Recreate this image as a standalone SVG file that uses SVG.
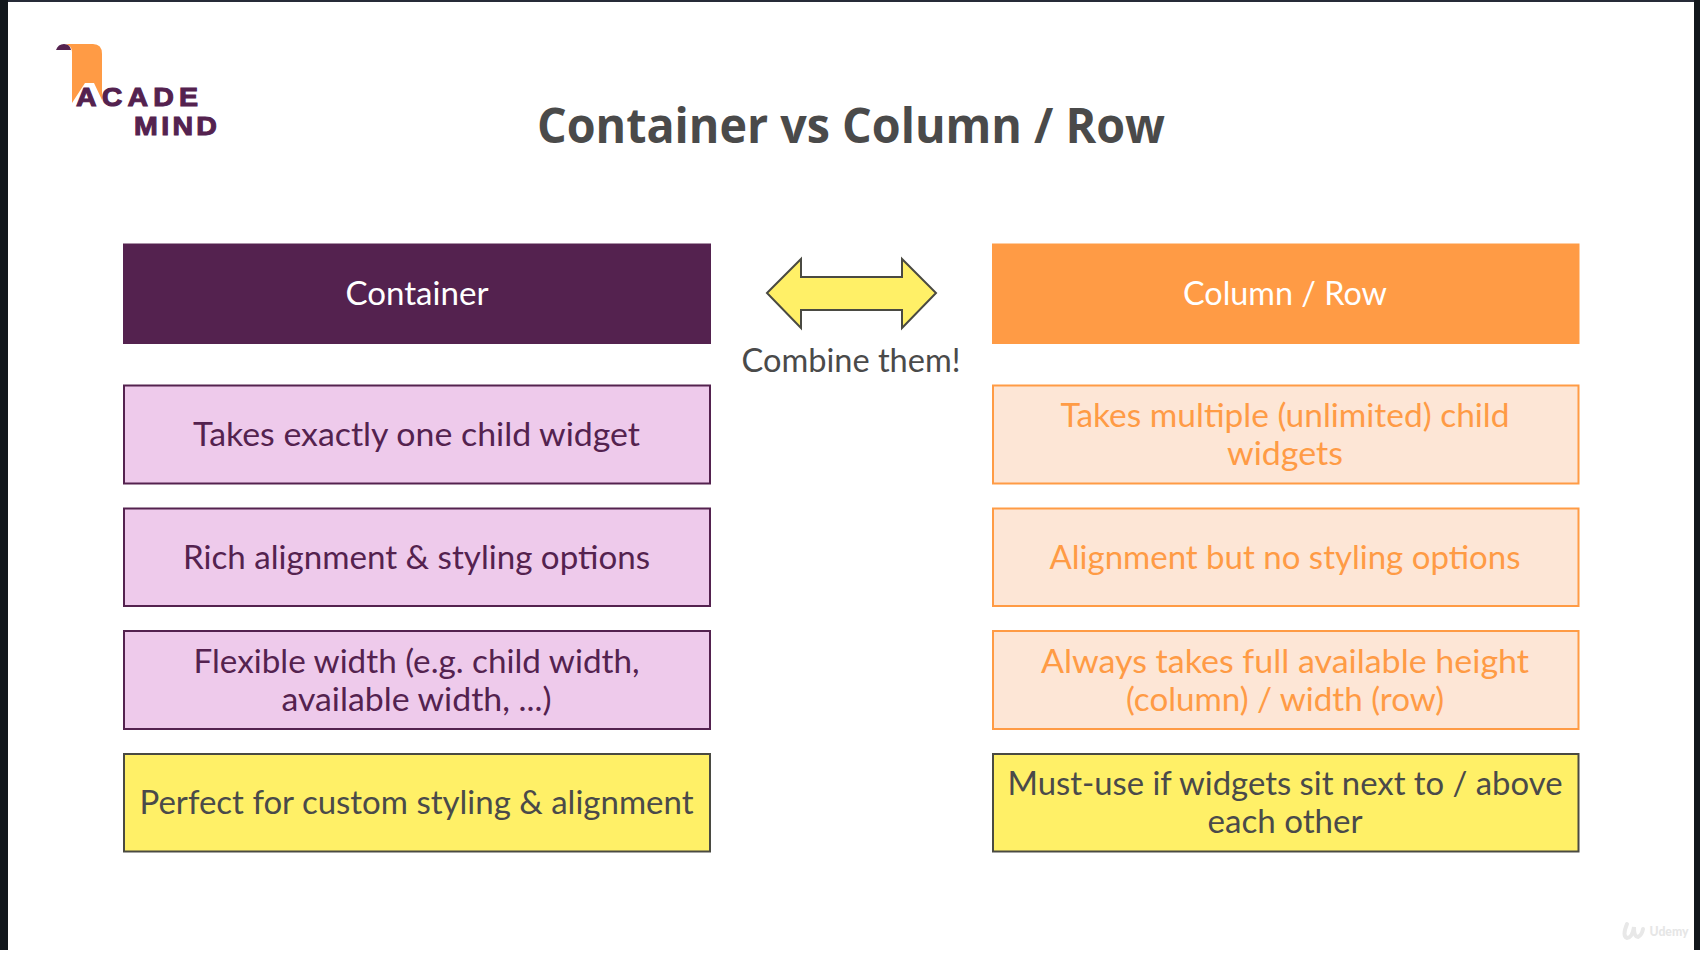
<svg xmlns="http://www.w3.org/2000/svg" width="1700" height="964" viewBox="0 0 1700 964">
<style>
text{font-family:"Lato","Liberation Sans",sans-serif;text-anchor:middle;font-size:33px}
.p{fill:#eecaeb;stroke:#54224f;stroke-width:2}
.o{fill:#fde6d6;stroke:#ff9b45;stroke-width:2}
.y{fill:#fff067;stroke:#4a4a42;stroke-width:2}
.tp{fill:#54224f}.to{fill:#ff9b45}.td{fill:#4a4a4a}.tw{fill:#fff}
.lg{font-family:"Liberation Sans",Arial,sans-serif;font-weight:700;font-size:25.5px;fill:#54224f;stroke:#54224f;stroke-width:1}
</style>
<rect width="1700" height="964" fill="#fff"/>
<rect width="1700" height="2" fill="#262b38"/>
<rect y="0" width="8" height="950" fill="#12171c"/>
<rect x="1694" y="0" width="6" height="950" fill="#12171c"/>
<g id="logo">
<path d="M71 44H93Q102 44 102 54V100L94 83H85L72 103V52Q72 46 66 44Z" fill="#ff9b45"/>
<path d="M56 50Q58 44 64 44Q70 44 71 50Z" fill="#54224f"/>
<text transform="translate(137 106) scale(1.12 1)" class="lg" textLength="109" lengthAdjust="spacing">ACADE</text>
<text transform="translate(175.500 135) scale(1.12 1)" class="lg" textLength="74" lengthAdjust="spacing">MIND</text>
</g>
<text id="title" x="851" y="143" class="td" style="font-family:'Open Sans',sans-serif;font-weight:700;font-size:48px" textLength="628" lengthAdjust="spacingAndGlyphs">Container vs Column / Row</text>
<g id="connectors">
<path id="arrow" d="M767 293L801 259V277H902V259L936 293L902 328V310H801V328Z" fill="#fff067" stroke="#4a4a42" stroke-width="2"/>
</g>
<text id="combine" x="851" y="372" class="td" textLength="219" lengthAdjust="spacingAndGlyphs">Combine them!</text>
<g id="container-header"><rect x="123" y="243.500" width="588" height="100.500" fill="#54224f"/><text x="417" y="305" class="tw" textLength="143" lengthAdjust="spacingAndGlyphs">Container</text></g>
<g id="columnrow-header"><rect x="992" y="243.500" width="587.500" height="100.500" fill="#ff9b45"/><text x="1285" y="305" class="tw" textLength="204" lengthAdjust="spacingAndGlyphs">Column / Row</text></g>
<g id="l1"><rect class="p" x="124" y="385.500" width="586" height="98"/><text x="416.500" y="446" class="tp" textLength="447" lengthAdjust="spacingAndGlyphs">Takes exactly one child widget</text></g>
<g id="l2"><rect class="p" x="124" y="508.500" width="586" height="97.500"/><text x="416.500" y="569" class="tp" textLength="467" lengthAdjust="spacingAndGlyphs">Rich alignment &amp; styling options</text></g>
<g id="l3"><rect class="p" x="124" y="631" width="586" height="98"/><text x="416.500" y="673" class="tp" textLength="446" lengthAdjust="spacingAndGlyphs">Flexible width (e.g. child width,</text><text x="416.500" y="711" class="tp" textLength="270" lengthAdjust="spacingAndGlyphs">available width, ...)</text></g>
<g id="l4"><rect class="y" x="124" y="754" width="586" height="97.500"/><text x="416.500" y="814" class="td" textLength="554" lengthAdjust="spacingAndGlyphs">Perfect for custom styling &amp; alignment</text></g>
<g id="r1"><rect class="o" x="993" y="385.500" width="585.500" height="98"/><text x="1285" y="427" class="to" textLength="449" lengthAdjust="spacingAndGlyphs">Takes multiple (unlimited) child</text><text x="1285" y="465" class="to" textLength="116" lengthAdjust="spacingAndGlyphs">widgets</text></g>
<g id="r2"><rect class="o" x="993" y="508.500" width="585.500" height="97.500"/><text x="1285" y="569" class="to" textLength="471" lengthAdjust="spacingAndGlyphs">Alignment but no styling options</text></g>
<g id="r3"><rect class="o" x="993" y="631" width="585.500" height="98"/><text x="1285" y="673" class="to" textLength="488" lengthAdjust="spacingAndGlyphs">Always takes full available height</text><text x="1285" y="711" class="to" textLength="318" lengthAdjust="spacingAndGlyphs">(column) / width (row)</text></g>
<g id="r4"><rect class="y" x="993" y="754" width="585.500" height="97.500"/><text x="1285" y="795" class="td" textLength="555" lengthAdjust="spacingAndGlyphs">Must-use if widgets sit next to / above</text><text x="1285" y="833" class="td" textLength="155" lengthAdjust="spacingAndGlyphs">each other</text></g>
<g id="udemy"><text x="1669" y="936" style="font-size:13px;font-weight:900" fill="#e6e6e6" textLength="39" lengthAdjust="spacingAndGlyphs">Udemy</text><path d="M1627 924Q1622 936 1627 938Q1632 938 1634 927Q1634 937 1638 937Q1642 935 1643 929" fill="none" stroke="#e8e8e8" stroke-width="4" stroke-linecap="round"/></g>
</svg>
